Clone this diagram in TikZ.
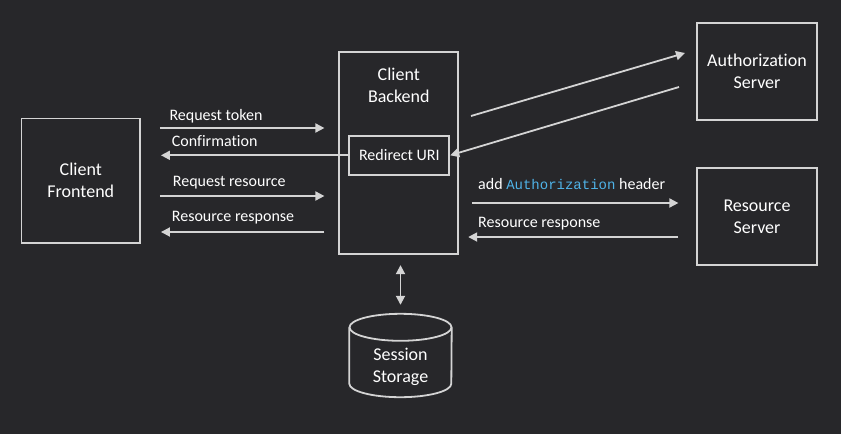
\documentclass[tikz,border=0pt]{standalone}
\usepackage{fontspec}
\setmainfont{Carlito}[Ligatures={NoCommon}]
\newfontfamily\codefont{Liberation Mono}
\usetikzlibrary{arrows.meta}
\definecolor{bg}{HTML}{27272A}
\definecolor{ln}{HTML}{D4D4D4}
\definecolor{codeblue}{HTML}{4FB3E8}

\begin{document}
\begin{tikzpicture}[x=1pt,y=-1pt,
    box/.style={draw=ln,line width=1.8pt,inner sep=0pt,text=white,align=center,
        font=\fontsize{18}{22}\selectfont},
    lbl/.style={anchor=base west,inner sep=0pt,text=white,font=\fontsize{16}{19}\selectfont},
    arr/.style={draw=ln,line width=1.8pt,-{Triangle[length=9pt,width=9pt]}}]
    \fill[bg] (0,0) rectangle (841,434);
    \useasboundingbox (0,0) rectangle (841,434);

    % boxes
    \node[box,minimum width=118.5pt,minimum height=124.5pt] (fe) at (80.8,180.8) {Client\\Frontend};
    \node[box,minimum width=119pt,minimum height=202.5pt] (be) at (398.8,153) {};
    \node[anchor=base,text=white,align=center,font=\fontsize{18}{22}\selectfont] (bet) at (398.8,102) {Client\\Backend};
    \node[box,minimum width=100pt,minimum height=39.3pt,font=\fontsize{16}{19}\selectfont] (ru) at (399.3,155.3) {Redirect URI};
    \node[box,minimum width=119.4pt,minimum height=97.4pt] (as) at (757,71.3) {Authorization\\Server};
    \node[box,minimum width=119.4pt,minimum height=97pt] (rs) at (757,216.5) {Resource\\Server};

    % storage cylinder
    \node[minimum width=102pt,minimum height=83pt,inner sep=0pt] (ss) at (400.5,355.5) {};
    \draw[ln,line width=1.8pt] ([yshift=-13.5pt]ss.north) ellipse [x radius=51pt,y radius=13.5pt];
    \draw[ln,line width=1.8pt] ([yshift=-13.5pt]ss.north west) -- ([yshift=13.5pt]ss.south west)
        arc[start angle=180,end angle=360,x radius=51pt,y radius=13.5pt] -- ([yshift=-13.5pt]ss.north east);
    \node[anchor=base,text=white,align=center,font=\fontsize{18}{22}\selectfont] (sst) at (400.5,382) {Session\\Storage};

    % levels
    \coordinate (y1) at (0,128);
    \coordinate (y2) at (0,155.3);
    \coordinate (y3) at (0,196);
    \coordinate (y4) at (0,232);
    \coordinate (y5) at (0,203);
    \coordinate (y6) at (0,237);
    \coordinate (a1) at (471,116);
    \coordinate (a2) at (685,53);
    \coordinate (a3) at (679,87);

    % frontend <-> backend
    \draw[arr,shorten <=19pt,shorten >=14pt] (fe.east |- y1) -- (be.west |- y1);
    \draw[arr,shorten >=20pt] (ru.west) -- (fe.east |- y2);
    \draw[arr,shorten <=19pt,shorten >=14pt] (fe.east |- y3) -- (be.west |- y3);
    \draw[arr,shorten <=14pt,shorten >=20pt] (be.west |- y4) -- (fe.east |- y4);
    \node[lbl] (l1) at (169.3,120) {Request token};
    \node[lbl] (l2) at (171.7,146.7) {Confirmation};
    \node[lbl] (l3) at (172.7,186) {Request resource};
    \node[lbl] (l4) at (171.7,221.7) {Resource response};

    % backend <-> servers
    \draw[arr] (a1) -- (a2);
    \draw[arr] (a3) -- (ru.east);
    \draw[arr,shorten <=12.7pt,shorten >=18pt] (be.east |- y5) -- (rs.west |- y5);
    \draw[arr,shorten <=18pt,shorten >=9pt] (rs.west |- y6) -- (be.east |- y6);
    \node[lbl] (l5) at (478,189) {add {\codefont\fontsize{14}{16}\selectfont\color{codeblue}Authorization} header};
    \node[lbl] (l6) at (478,227) {Resource response};

    % storage
    \draw[draw=ln,line width=1.8pt,{Triangle[length=9pt,width=9pt]}-{Triangle[length=9pt,width=9pt]},
        shorten <=10pt,shorten >=9pt] (be.south -| ss.north) -- (ss.north);
\end{tikzpicture}
\end{document}
